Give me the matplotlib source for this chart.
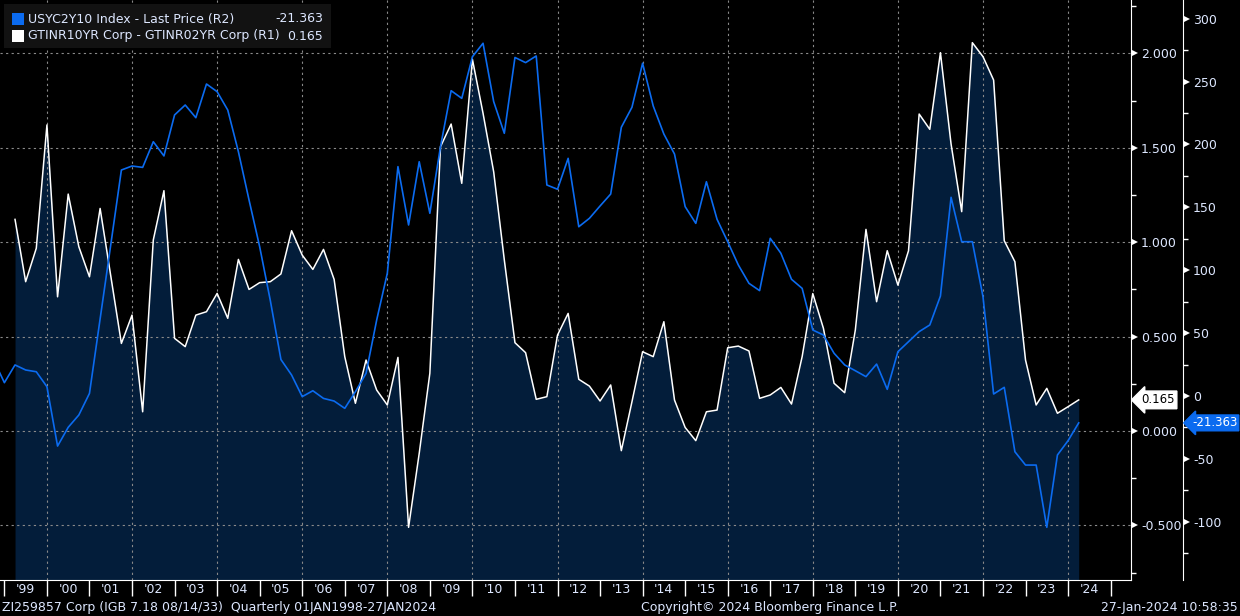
"""
Bloomberg style chart: India 10y-2y spread (R1, filled) vs US 2s10s (R2)
quarterly closes, Q1 1999 .. Q1 2024 (partial, 27-Jan-2024)
"""

import numpy as np
import matplotlib
matplotlib.use('Agg')
import matplotlib.pyplot as plt
from matplotlib import font_manager
from matplotlib.transforms import blended_transform_factory
from matplotlib.patches import Rectangle


# GTINR10YR Corp - GTINR02YR Corp, in %, first quarter = Q1 1999
india_spread = [
    1.121, 0.791, 0.968, 1.621, 0.711, 1.255, 0.976, 0.817, 1.179, 0.822,
    0.464, 0.614, 0.102, 1.012, 1.273, 0.491, 0.447, 0.614, 0.632, 0.729,
    0.597, 0.909, 0.750, 0.786, 0.791, 0.832, 1.061, 0.932, 0.856, 0.962,
    0.803, 0.394, 0.147, 0.376, 0.217, 0.138, 0.390, -0.510, -0.118, 0.306,
    1.506, 1.626, 1.312, 1.969, 1.683, 1.373, 0.906, 0.468, 0.415, 0.168,
    0.182, 0.508, 0.623, 0.274, 0.238, 0.159, 0.244, -0.104, 0.155, 0.420,
    0.394, 0.579, 0.164, 0.019, -0.051, 0.102, 0.111, 0.441, 0.450, 0.424,
    0.173, 0.191, 0.231, 0.143, 0.394, 0.728, 0.544, 0.253, 0.203, 0.535,
    1.068, 0.685, 0.955, 0.773, 0.955, 1.679, 1.598, 2.004, 1.520, 1.162,
    2.057, 1.983, 1.859, 1.008, 0.897, 0.376, 0.138, 0.226, 0.094, 0.129,
    0.165,
]

# USYC2Y10 Index, in bp, first quarter = Q3 1998 (two quarters earlier)
us_2s10s = [
    28.6, 10.6,
    24.7, 20.7, 19.3, 7.4, -39.8, -24.9, -15.1, 2.1, 61.3, 120.2,
    179.7, 182.9, 181.8, 202.2, 190.9, 223.5, 231.4, 221.3, 248.1, 242.0,
    227.4, 194.3, 155.9, 118.7, 76.0, 29.0, 16.7, -0.5, 4.2, -1.9,
    -4.0, -9.8, 3.4, 18.0, 60.4, 97.6, 182.4, 136.0, 186.3, 145.3,
    198.3, 242.8, 236.7, 269.8, 280.5, 234.1, 208.9, 269.2, 265.1, 270.4,
    167.8, 164.4, 189.0, 134.6, 141.3, 151.1, 160.6, 213.7, 229.6, 264.6,
    230.6, 208.3, 192.4, 150.6, 137.3, 170.4, 140.5, 122.7, 104.2, 89.6,
    83.8, 125.4, 113.5, 92.8, 85.6, 52.5, 48.5, 34.0, 24.7, 20.1,
    15.4, 25.4, 5.3, 35.2, 43.2, 51.2, 56.5, 79.5, 158.0, 122.7,
    122.7, 79.0, 1.6, 6.9, -44.3, -54.9, -54.9, -104.4, -46.9, -35.5,
    -21.363,
]

years = list(range(1999, 2025))
year_labels = ["'%02d" % (y % 100) for y in years]

r1_ticks = [-0.5, 0.0, 0.5, 1.0, 1.5, 2.0]
r2_ticks = [-100, -50, 0, 50, 100, 150, 200, 250, 300]

legend_names = ['USYC2Y10 Index - Last Price (R2)',
                'GTINR10YR Corp - GTINR02YR Corp (R1)']
last_us = '-21.363'
last_in = '0.165'

# quarter ends as decimal years
t_in = 1999.25 + 0.25 * np.arange(len(india_spread))
t_us = 1998.75 + 0.25 * np.arange(len(us_2s10s))


# fonts : something narrow if there is one
fonts = font_manager.fontManager.ttflist
names = set(f.name for f in fonts)
if 'Liberation Sans Narrow' in names:
    plt.rcParams['font.family'] = ['Liberation Sans Narrow', 'DejaVu Sans']
    fs = 10.8
else:
    plt.rcParams['font.family'] = ['DejaVu Sans']
    fs = 9.0

BG = 'black'
NAVY = '#031d3a'
BLUE = '#0b6bf0'
TXT = '#dde7ff'
GRID = '#8a8a8a'

W, H = 1240, 616
PT = 72 / 100     # points per pixel at dpi 100
fig = plt.figure(figsize=(W / 100, H / 100), dpi=100, facecolor=BG)
# plot area 0..1131 px wide, 0..580 px from top
ax = fig.add_axes([0, 36 / H, 1131 / W, 580 / H])
ax.set_facecolor(BG)

xmin, xmax = 1998.897, 2025.479
r1_lo, r1_hi = -0.789, 2.283
r2_lo, r2_hi = -146.3, 314.9

ax.fill_between(t_in, india_spread, r1_lo, color=NAVY, lw=0, zorder=1)
ax.plot(t_in, india_spread, color='white', lw=1.1, zorder=3)
ax.set_xlim(xmin, xmax)
ax.set_ylim(r1_lo, r1_hi)

# grid
for y in r1_ticks:
    ax.axhline(y, color=GRID, lw=0.8, ls=(0, (2, 3)), zorder=2)
for yr in range(2000, 2025, 2):
    ax.axvline(yr, color=GRID, lw=0.8, ls=(0, (2, 3)), zorder=2)

for s in ['top', 'left']:
    ax.spines[s].set_visible(False)
ax.spines['right'].set_color('white')
ax.spines['bottom'].set_color('white')

# x axis : separators at year starts, labels at mid year
ax.set_xticks(list(range(1999, 2026)))
ax.set_xticklabels([])
ax.set_xticks([y + 0.5 for y in years], minor=True)
ax.set_xticklabels(year_labels, minor=True)
ax.tick_params(axis='x', which='major', length=16 * PT, width=1, color='white', direction='out')
ax.tick_params(axis='x', which='minor', length=0, pad=2, labelsize=fs, labelcolor=TXT)

# R2 axis further right
ax2 = ax.twinx()
ax2.plot(t_us, us_2s10s, color=BLUE, lw=1.2, zorder=4)
ax2.set_xlim(xmin, xmax)
ax2.set_ylim(r2_lo, r2_hi)
for s in ['top', 'left', 'bottom']:
    ax2.spines[s].set_visible(False)
ax2.spines['right'].set_position(('outward', 52 * PT))
ax2.spines['right'].set_color('white')
ax2.set_yticks(r2_ticks)
ax2.set_yticklabels(['%d' % v for v in r2_ticks])
ax2.set_yticks(np.arange(-125, 301, 25), minor=True)
ax2.tick_params(axis='y', which='major', length=0, pad=10 * PT, labelsize=fs, labelcolor=TXT)
ax2.tick_params(axis='y', which='minor', length=5 * PT, width=1, color='white')

# R1 axis on the right (after twinx, which moves it back to the left)
ax.yaxis.tick_right()
ax.set_yticks(r1_ticks)
ax.set_yticklabels(['%.3f' % v for v in r1_ticks])
ax.set_yticks(np.arange(-0.75, 2.26, 0.25), minor=True)
ax.tick_params(axis='y', which='major', left=False, right=True, length=0, pad=10 * PT,
               labelsize=fs, labelcolor=TXT)
ax.tick_params(axis='y', which='minor', left=False, right=True, length=5 * PT, width=1,
               color='white')

# little triangles for the major ticks
tr1 = blended_transform_factory(ax.transAxes, ax.transData)
ax.plot([1 + 4 / 1131] * len(r1_ticks), r1_ticks, ls='none', marker='>',
        ms=5, mew=0, color='white', transform=tr1, clip_on=False, zorder=5)
tr2 = blended_transform_factory(ax2.transAxes, ax2.transData)
ax2.plot([1 + 56 / 1131] * len(r2_ticks), r2_ticks, ls='none', marker='>',
         ms=5, mew=0, color='white', transform=tr2, clip_on=False, zorder=5)

# last value tags
tag_fs = fs * 0.94
ax.annotate(last_in, xy=(1.0, india_spread[-1]), xycoords=tr1,
            xytext=(10, 0), textcoords='offset pixels', ha='left', va='center',
            fontsize=tag_fs, color='black', annotation_clip=False,
            bbox=dict(boxstyle='larrow,pad=0.2', fc='white', ec='white'))
ax2.annotate(last_us, xy=(1 + 52 / 1131, us_2s10s[-1]), xycoords=tr2,
             xytext=(9, 0), textcoords='offset pixels', ha='left', va='center',
             fontsize=tag_fs, color='white', annotation_clip=False,
             bbox=dict(boxstyle='larrow,pad=0.12', fc=BLUE, ec=BLUE))

# legend box, top left
def fx(px): return px / W
def fy(py): return 1 - py / H

fig.patches.append(Rectangle((fx(4), fy(48)), fx(327), 44 / H, transform=fig.transFigure,
                             fc='#121212', ec='none', zorder=10))
for k, (name, val, col) in enumerate(zip(legend_names, [last_us, last_in], [BLUE, 'white'])):
    yc = 19 + 17 * k
    fig.patches.append(Rectangle((fx(12), fy(yc + 6)), fx(12), 12 / H, transform=fig.transFigure,
                                 fc=col, ec='none', zorder=11))
    fig.text(fx(28), fy(yc), name, color=TXT, fontsize=fs, va='center', ha='left', zorder=12)
    fig.text(fx(323), fy(yc), val, color=TXT, fontsize=fs, va='center', ha='right', zorder=12)

# footer
fig.text(fx(2), fy(607), 'ZI259857 Corp (IGB 7.18 08/14/33)  Quarterly 01JAN1998-27JAN2024',
         color=TXT, fontsize=fs, va='center', ha='left')
fig.text(fx(641), fy(607), 'Copyright\u00a9 2024 Bloomberg Finance L.P.',
         color=TXT, fontsize=fs, va='center', ha='left')
fig.text(fx(1238), fy(607), '27-Jan-2024 10:58:35',
         color=TXT, fontsize=fs, va='center', ha='right')

fig.savefig('out.png', dpi=100, facecolor=BG)
